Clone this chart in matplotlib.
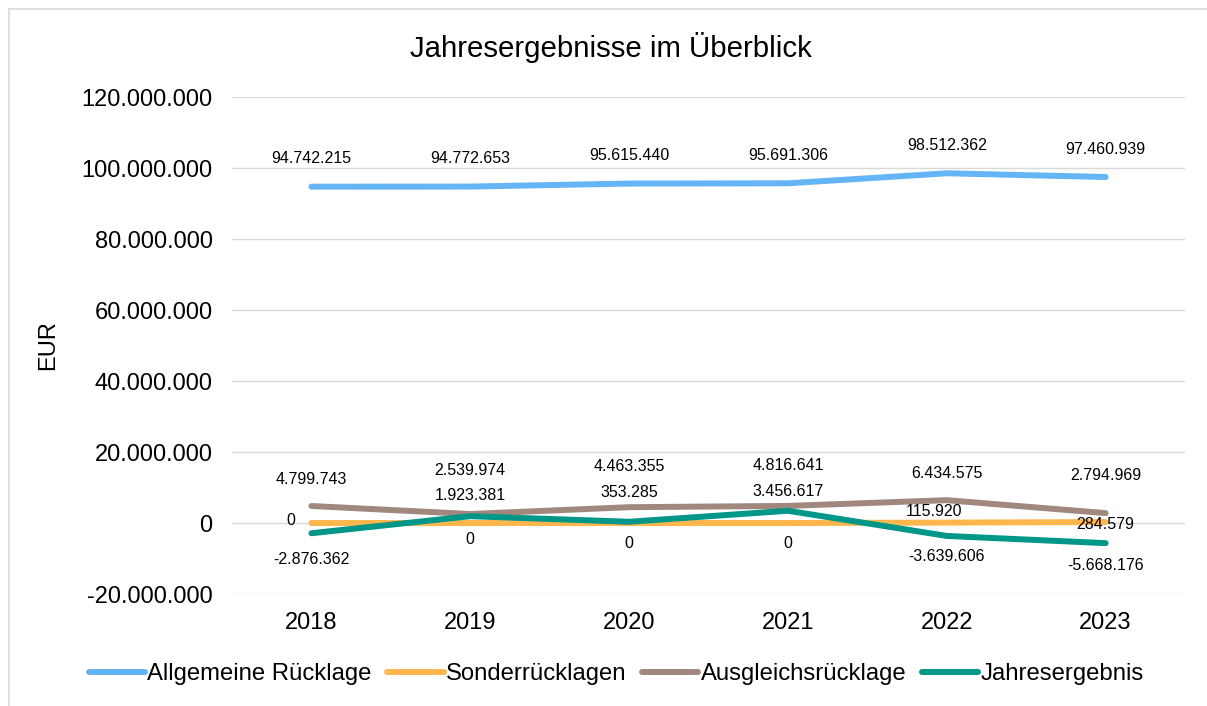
import matplotlib.pyplot as plt
from matplotlib.lines import Line2D
from matplotlib.ticker import FuncFormatter

plt.rcParams['font.family'] = ['Liberation Sans', 'DejaVu Sans']

years = ['2018', '2019', '2020', '2021', '2022', '2023']
allgemeine = [94742215, 94772653, 95615440, 95691306, 98512362, 97460939]
sonder = [0, 0, 0, 0, 115920, 284579]
ausgleich = [4799743, 2539974, 4463355, 4816641, 6434575, 2794969]
jahresergebnis = [-2876362, 1923381, 353285, 3456617, -3639606, -5668176]

names = ['Allgemeine Rücklage', 'Sonderrücklagen', 'Ausgleichsrücklage', 'Jahresergebnis']
colors = ['#64B5F6', '#FFB74D', '#A1887F', '#009688']

# label offsets in points (dx, dy)
off_allg = [(0, 20)] * 6
off_sonder = [(-15, 2), (0, -12), (0, -15), (0, -15), (-9, 8), (0, -2)]
off_ausg = [(0, 19), (0, 31), (0, 29), (0, 29), (0, 19), (0, 27)]
off_jahr = [(0, -19), (0, 15), (0, 21), (0, 14), (0, -15), (0, -16)]


def fmt(v, pos=None):
    return f'{v:,.0f}'.replace(',', '.')


fig = plt.figure(figsize=(12.07, 7.06), dpi=100)
ax = fig.add_axes([0.1922, 0.1586, 0.7896, 0.704])

x = list(range(len(years)))
series = [allgemeine, sonder, ausgleich, jahresergebnis]
offsets = [off_allg, off_sonder, off_ausg, off_jahr]
for vals, name, col, offs in zip(series, names, colors, offsets):
    ax.plot(x, vals, color=col, lw=4.3, solid_capstyle='round', label=name, zorder=3)
    for xi, v, (dx, dy) in zip(x, vals, offs):
        ax.annotate(fmt(v), (xi, v), xytext=(dx, dy), textcoords='offset points',
                    ha='center', va='center', fontsize=11.5, color='#000000', zorder=4)

ax.set_xlim(-0.5, 5.5)
ax.set_ylim(-20000000, 120000000)
ax.set_yticks(range(-20000000, 120000001, 20000000))
ax.yaxis.set_major_formatter(FuncFormatter(fmt))
ax.set_xticks(x)
ax.set_xticklabels(years)
ax.tick_params(axis='both', length=0, labelsize=17, colors='#000000')
ax.tick_params(axis='y', pad=14)
ax.tick_params(axis='x', pad=13)
ax.grid(axis='y', color='#D9D9D9', lw=1)
ax.set_axisbelow(True)
for s in ax.spines.values():
    s.set_visible(False)

ax.set_ylabel('EUR', fontsize=17, labelpad=16)
fig.text(0.5065, 0.933, 'Jahresergebnisse im Überblick', ha='center', va='center', fontsize=21.2)

fig.legend(loc='center', bbox_to_anchor=(0.5105, 0.045), ncol=4, frameon=False, fontsize=17.2,
           handlelength=2.35, handletextpad=0.1, columnspacing=0.65)

# partial chart border (top and left visible)
bx = 9 / 1207
by = 1 - 9 / 706
fig.add_artist(Line2D([bx, 1], [by, by], color='#D9D9D9', lw=1.2))
fig.add_artist(Line2D([bx, bx], [0, by], color='#D9D9D9', lw=1.2))

fig.savefig('out.png', dpi=100)
